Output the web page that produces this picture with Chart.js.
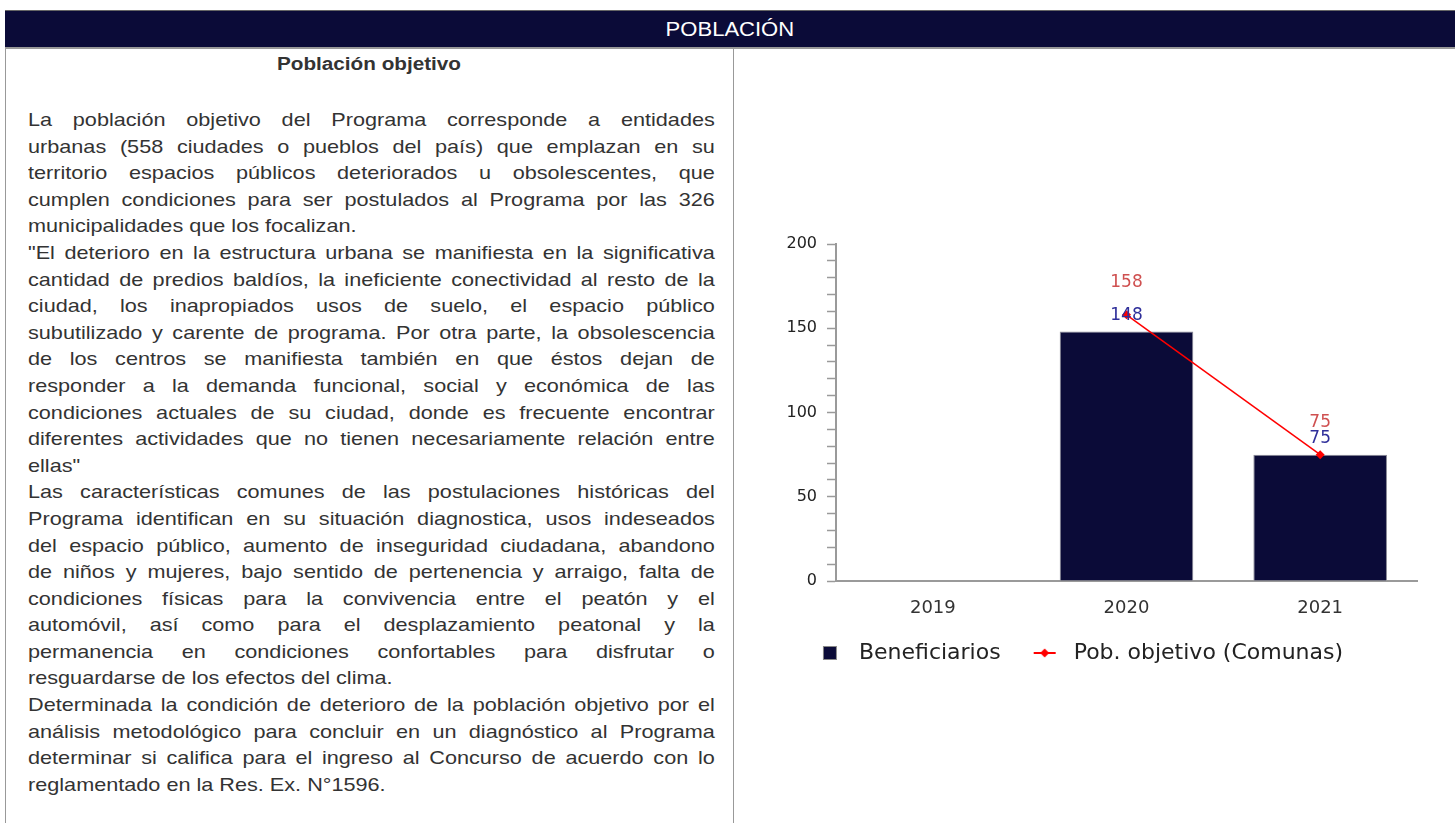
<!DOCTYPE html>
<html>
<head>
<meta charset="utf-8">
<script src="https://cdn.jsdelivr.net/npm/chart.js@4.4.1/dist/chart.umd.min.js"></script>
<style>
  body {
    margin: 0;
    width: 1455px;
    height: 823px;
    overflow: hidden;
    position: relative;
    background: #fff;
    font-family: "Liberation Sans", Arial, sans-serif;
  }
  #header {
    position: absolute;
    left: 5px;
    top: 10px;
    width: 1450px;
    height: 36px;
    background: #0b0b38;
    border-top: 1px solid #666;
    border-bottom: 2px solid #999;
    text-align: center;
    line-height: 36px;
  }
  #header span {
    display: inline-block;
    color: #fff;
    font-size: 19.5px;
    transform: scaleX(1.13);
  }
  #left-cell {
    position: absolute;
    left: 5px;
    top: 49px;
    width: 727px;
    height: 790px;
    border-left: 1.5px solid #999;
    border-right: 1.5px solid #999;
  }
  #title {
    position: absolute;
    left: 0;
    top: 4px;
    width: 727px;
    text-align: center;
    line-height: 22px;
  }
  #title span {
    display: inline-block;
    font-weight: bold;
    font-size: 18px;
    color: #333;
    transform: scaleX(1.15);
  }
  #body-text {
    position: absolute;
    left: 28px;
    top: 107px;
  }
  .line {
    width: 587px;
    height: 26.6px;
    line-height: 26.6px;
    font-size: 18.5px;
    color: #333;
    text-align: justify;
    text-align-last: justify;
    transform: scaleX(1.17);
    transform-origin: 0 0;
  }
  .line.last {
    text-align-last: left;
    white-space: nowrap;
  }
  #chart-box {
    position: absolute;
    left: 734px;
    top: 36px;
    width: 721px;
    height: 640px;
  }
</style>
</head>
<body>
<div id="header"><span>POBLACIÓN</span></div>
<div id="left-cell">
  <div id="title"><span>Población objetivo</span></div>
</div>
<div id="body-text"></div>
<div id="chart-box"><canvas id="poblacion-chart"></canvas></div>

<script>
// Datos del gráfico
const years = ['2019', '2020', '2021'];
const beneficiarios = [null, 148, 75];
const pobObjetivo = [null, 158, 75];
const yTicksMax = 200;

// Texto del panel izquierdo, una entrada por renglón (true = fin de párrafo)
const textLines = [
  ['La población objetivo del Programa corresponde a entidades', false],
  ['urbanas (558 ciudades o pueblos del país) que emplazan en su', false],
  ['territorio espacios públicos deteriorados u obsolescentes, que', false],
  ['cumplen condiciones para ser postulados al Programa por las 326', false],
  ['municipalidades que los focalizan.', true],
  ['"El deterioro en la estructura urbana se manifiesta en la significativa', false],
  ['cantidad de predios baldíos, la ineficiente conectividad al resto de la', false],
  ['ciudad, los inapropiados usos de suelo, el espacio público', false],
  ['subutilizado y carente de programa. Por otra parte, la obsolescencia', false],
  ['de los centros se manifiesta también en que éstos dejan de', false],
  ['responder a la demanda funcional, social y económica de las', false],
  ['condiciones actuales de su ciudad, donde es frecuente encontrar', false],
  ['diferentes actividades que no tienen necesariamente relación entre', false],
  ['ellas"', true],
  ['Las características comunes de las postulaciones históricas del', false],
  ['Programa identifican en su situación diagnostica, usos indeseados', false],
  ['del espacio público, aumento de inseguridad ciudadana, abandono', false],
  ['de niños y mujeres, bajo sentido de pertenencia y arraigo, falta de', false],
  ['condiciones físicas para la convivencia entre el peatón y el', false],
  ['automóvil, así como para el desplazamiento peatonal y la', false],
  ['permanencia en condiciones confortables para disfrutar o', false],
  ['resguardarse de los efectos del clima.', true],
  ['Determinada la condición de deterioro de la población objetivo por el', false],
  ['análisis metodológico para concluir en un diagnóstico al Programa', false],
  ['determinar si califica para el ingreso al Concurso de acuerdo con lo', false],
  ['reglamentado en la Res. Ex. N°1596.', true]
];

const bodyText = document.getElementById('body-text');
textLines.forEach(function(item) {
  const div = document.createElement('div');
  div.className = item[1] ? 'line last' : 'line';
  div.textContent = item[0];
  bodyText.appendChild(div);
});

// Iconos de la leyenda (ancho = pointStyleWidth)
function makeSquareIcon() {
  const c = document.createElement('canvas');
  c.width = 40;
  c.height = 22;
  const g = c.getContext('2d');
  g.fillStyle = '#0b0b38';
  g.fillRect(15, 4, 14, 14);
  g.strokeStyle = '#888';
  g.lineWidth = 1;
  g.strokeRect(15.5, 4.5, 13, 13);
  return c;
}
function makeLineIcon() {
  const c = document.createElement('canvas');
  c.width = 40;
  c.height = 22;
  const g = c.getContext('2d');
  g.strokeStyle = '#ff0000';
  g.lineWidth = 2;
  g.beginPath();
  g.moveTo(11, 11);
  g.lineTo(33, 11);
  g.stroke();
  g.fillStyle = '#ff0000';
  g.beginPath();
  g.moveTo(22, 6.5);
  g.lineTo(26.5, 11);
  g.lineTo(22, 15.5);
  g.lineTo(17.5, 11);
  g.closePath();
  g.fill();
  return c;
}
const squareIcon = makeSquareIcon();
const lineIcon = makeLineIcon();

// Etiquetas de valores sobre barras y puntos
const valueLabels = {
  id: 'valueLabels',
  afterDatasetsDraw(chart) {
    const ctx = chart.ctx;
    ctx.save();
    ctx.font = '17px "DejaVu Sans"';
    ctx.textAlign = 'center';
    ctx.textBaseline = 'middle';
    chart.data.datasets.forEach(function(ds, i) {
      const meta = chart.getDatasetMeta(i);
      meta.data.forEach(function(el, j) {
        const v = ds.data[j];
        if (v === null) return;
        const isLine = ds.type === 'line';
        ctx.fillStyle = isLine ? '#cf5050' : '#2f2f9a';
        ctx.fillText(String(v), el.x, el.y - (isLine ? 32 : 16));
      });
    });
    ctx.restore();
  }
};

const ctx = document.getElementById('poblacion-chart').getContext('2d');
new Chart(ctx, {
  type: 'bar',
  data: {
    labels: years,
    datasets: [
      {
        label: 'Beneficiarios',
        data: beneficiarios,
        backgroundColor: '#0b0b38',
        borderColor: '#8a8a96',
        borderWidth: 1,
        barPercentage: 0.69,
        categoryPercentage: 1,
        order: 2
      },
      {
        type: 'line',
        label: 'Pob. objetivo (Comunas)',
        data: pobObjetivo,
        borderColor: '#ff0000',
        backgroundColor: '#ff0000',
        borderWidth: 1.5,
        pointStyle: 'rectRot',
        pointRadius: 4.5,
        pointBorderWidth: 0,
        fill: false,
        order: 1
      }
    ]
  },
  options: {
    responsive: true,
    maintainAspectRatio: false,
    animation: false,
    layout: {
      padding: { left: 0, right: 38, top: 208, bottom: 2 }
    },
    plugins: {
      tooltip: { enabled: false },
      legend: {
        position: 'bottom',
        labels: {
          usePointStyle: true,
          pointStyleWidth: 40,
          padding: 22,
          color: '#222',
          font: { family: 'DejaVu Sans', size: 22 },
          generateLabels: function(chart) {
            const items = Chart.defaults.plugins.legend.labels.generateLabels(chart);
            items.forEach(function(it) {
              it.pointStyle = it.datasetIndex === 0 ? squareIcon : lineIcon;
            });
            return items;
          },
          sort: function(a, b) {
            return a.datasetIndex - b.datasetIndex;
          }
        }
      }
    },
    scales: {
      x: {
        grid: { display: false, drawTicks: false },
        border: { display: true, color: '#9a9a9a', width: 2 },
        ticks: {
          color: '#333',
          padding: 17,
          font: { family: 'DejaVu Sans', size: 18 }
        },
        afterFit: function(scale) {
          scale.height = 39;
        }
      },
      y: {
        min: 0,
        max: yTicksMax,
        grid: {
          drawOnChartArea: false,
          drawTicks: true,
          tickLength: 9,
          tickColor: '#9a9a9a',
          tickWidth: 1.5
        },
        border: { display: true, color: '#9a9a9a', width: 2 },
        ticks: {
          stepSize: 10,
          autoSkip: false,
          color: '#222',
          padding: 10,
          font: { family: 'DejaVu Sans', size: 16 },
          callback: function(v) {
            return v % 50 === 0 ? v : '';
          }
        },
        afterFit: function(scale) {
          scale.width = 102;
        }
      }
    }
  },
  plugins: [valueLabels]
});
</script>
</body>
</html>
